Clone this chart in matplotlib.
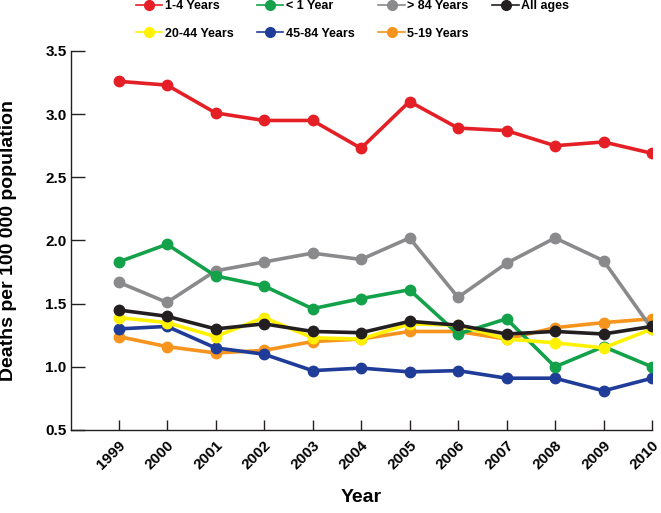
import matplotlib
matplotlib.use("Agg")
import matplotlib.pyplot as plt
from matplotlib.transforms import ScaledTranslation

years = list(range(1999, 2011))

age_1_4 = [3.26, 3.23, 3.01, 2.95, 2.95, 2.73, 3.10, 2.89, 2.87, 2.75, 2.78, 2.69]
age_under1 = [1.83, 1.97, 1.72, 1.64, 1.46, 1.54, 1.61, 1.26, 1.38, 1.00, 1.16, 1.00]
age_over84 = [1.67, 1.51, 1.76, 1.83, 1.90, 1.85, 2.02, 1.55, 1.82, 2.02, 1.84, 1.30]
all_ages = [1.45, 1.40, 1.30, 1.34, 1.28, 1.27, 1.36, 1.33, 1.26, 1.28, 1.26, 1.32]
age_20_44 = [1.39, 1.35, 1.24, 1.39, 1.23, 1.22, 1.34, 1.33, 1.22, 1.19, 1.15, 1.30]
age_45_84 = [1.30, 1.32, 1.15, 1.10, 0.97, 0.99, 0.96, 0.97, 0.91, 0.91, 0.81, 0.91]
age_5_19 = [1.24, 1.16, 1.11, 1.13, 1.20, 1.22, 1.28, 1.28, 1.22, 1.31, 1.35, 1.38]

plt.rcParams["font.family"] = ["Liberation Sans", "DejaVu Sans"]
plt.rcParams["font.weight"] = "bold"
plt.rcParams["axes.labelweight"] = "bold"
ink = "#231f20"

fig = plt.figure(figsize=(6.61, 5.13), dpi=100)
ax = fig.add_axes([0.107, 0.1618, 0.8794, 0.7388])

# drawing order: later lines sit on top
series = [
    ("5-19 Years", age_5_19, "#f7941d"),
    ("45-84 Years", age_45_84, "#1f3c98"),
    ("> 84 Years", age_over84, "#8a8a8c"),
    ("< 1 Year", age_under1, "#13a14a"),
    ("1-4 Years", age_1_4, "#e41f26"),
    ("20-44 Years", age_20_44, "#fff200"),
    ("All ages", all_ages, ink),
]
colors = {}
for label, vals, color in series:
    ax.plot(years, vals, color=color, lw=2.6, marker="o", ms=7.5, label=label)
    colors[label] = color

# legend laid out column by column -> rows read 1-4, <1, >84, All / 20-44, 45-84, 5-19
order = ["1-4 Years", "20-44 Years", "< 1 Year", "45-84 Years",
         "> 84 Years", "5-19 Years", "All ages"]
small = [ax.plot([], [], color=colors[l], lw=1.2, marker="o", ms=7)[0] for l in order]
fig.legend(small, order, ncol=4, loc="upper left", bbox_to_anchor=(0.2057, 1.0),
           frameon=False, fontsize=9, handlelength=2.1, handletextpad=0.2,
           columnspacing=1.9, labelspacing=1.25, borderpad=0, borderaxespad=0)

ax.set_xlim(1998.015, 2010)
ax.set_ylim(0.5, 3.5)
ax.set_xticks(years)
ax.set_xticklabels([str(y) for y in years], rotation=45, ha="right", va="top",
                   rotation_mode="anchor", fontsize=11)
shift = ScaledTranslation(6 / 100, 0, fig.dpi_scale_trans)
for lab in ax.get_xticklabels():
    lab.set_transform(lab.get_transform() + shift)
ax.set_yticks([0.5, 1.0, 1.5, 2.0, 2.5, 3.0, 3.5])
ax.set_yticklabels(["0.5", "1.0", "1.5", "2.0", "2.5", "3.0", "3.5"], fontsize=11)
ax.tick_params(direction="in", width=1, color=ink)
ax.tick_params(axis="x", length=7, pad=5.8)
ax.tick_params(axis="y", length=10, pad=3)
ax.spines["top"].set_visible(False)
ax.spines["right"].set_visible(False)
for s in ("left", "bottom"):
    ax.spines[s].set_linewidth(1)
    ax.spines[s].set_color(ink)

ax.set_xlabel("Year", fontsize=14)
ax.xaxis.set_label_coords(0.5, -0.156)
ax.set_ylabel("Deaths per 100 000 population", fontsize=14)
ax.yaxis.set_label_coords(-0.0924, 0.5)

fig.savefig("out.png", dpi=100)
